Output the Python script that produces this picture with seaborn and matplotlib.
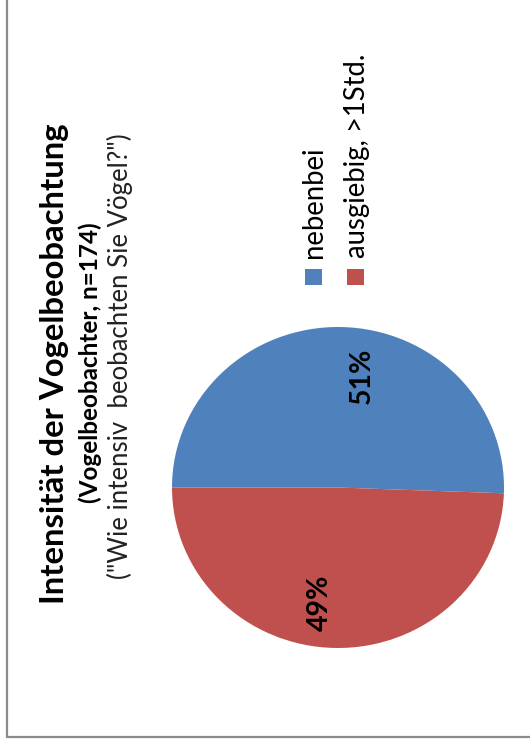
import matplotlib
matplotlib.use("Agg")
import matplotlib.pyplot as plt
import seaborn as sns
from matplotlib.patches import Rectangle
from matplotlib.lines import Line2D

# ---- data ----
categories = ["nebenbei", "ausgiebig, >1Std."]
counts = [88, 86]          # n = 174
pct_labels = ["51%", "49%"]
title = "Intensität der Vogelbeobachtung"
subtitle = "(Vogelbeobachter, n=174)"
question = '("Wie intensiv  beobachten Sie Vögel?")'

sns.set_theme(style="white")
plt.rcParams['font.family'] = ['Lato', 'DejaVu Sans']
colors = ["#4F81BD", "#C0504D"]

W, H = 530, 747
fig = plt.figure(figsize=(W / 100, H / 100), dpi=100)
fig.patch.set_facecolor("white")

def fx(x):
    return x / W

def fy(y):
    return 1 - y / H

# pie axes (image rotated 90 degrees)
ax = fig.add_axes([fx(172), fy(648), (504 - 172) / W, (648 - 327) / H])
wedges, _ = ax.pie(counts, colors=colors, startangle=180 - 360 * counts[0] / sum(counts),
                   counterclock=True, radius=1, wedgeprops=dict(linewidth=0))
ax.set_aspect("auto")
ax.set_xlim(-1, 1)
ax.set_ylim(-1, 1)
ax.axis("off")

label_pos = [(0.145, 0.695), (-0.108, -0.72)]
for (lx, ly), lab in zip(label_pos, pct_labels):
    ax.text(lx, ly, lab, rotation=90, ha="center", va="center",
            fontsize=20.5, fontweight="bold", color="black")

# titles (rotated)
fig.text(fx(55), fy(364), title, rotation=90, ha="center", va="center",
         fontsize=23.7, fontweight="bold", color="black")
fig.text(fx(90), fy(363), subtitle, rotation=90, ha="center", va="center",
         fontsize=17.5, fontweight="bold", color="black")
fig.text(fx(120), fy(356), question, rotation=90, ha="center", va="center",
         fontsize=18.5, color="#222222")

# legend (rotated)
leg_x = [313.5, 355.5]
for lx, cat, col in zip(leg_x, categories, colors):
    fig.add_artist(Rectangle((fx(lx - 8.5), fy(285)), 17 / W, 16 / H,
                             transform=fig.transFigure, facecolor=col,
                             edgecolor="none"))
    fig.text(fx(lx + 1), fy(258), cat, rotation=90, ha="center", va="bottom",
             fontsize=19.8, color="black")

# chart frame (left and bottom edges visible)
frame_col = "#8C8C8C"
fig.add_artist(Line2D([fx(7), fx(7)], [fy(737), 1.01], transform=fig.transFigure,
                      color=frame_col, linewidth=1.6))
fig.add_artist(Line2D([fx(7), 1.01], [fy(737), fy(737)], transform=fig.transFigure,
                      color=frame_col, linewidth=1.6))

fig.savefig("out.png", dpi=100, facecolor="white")
